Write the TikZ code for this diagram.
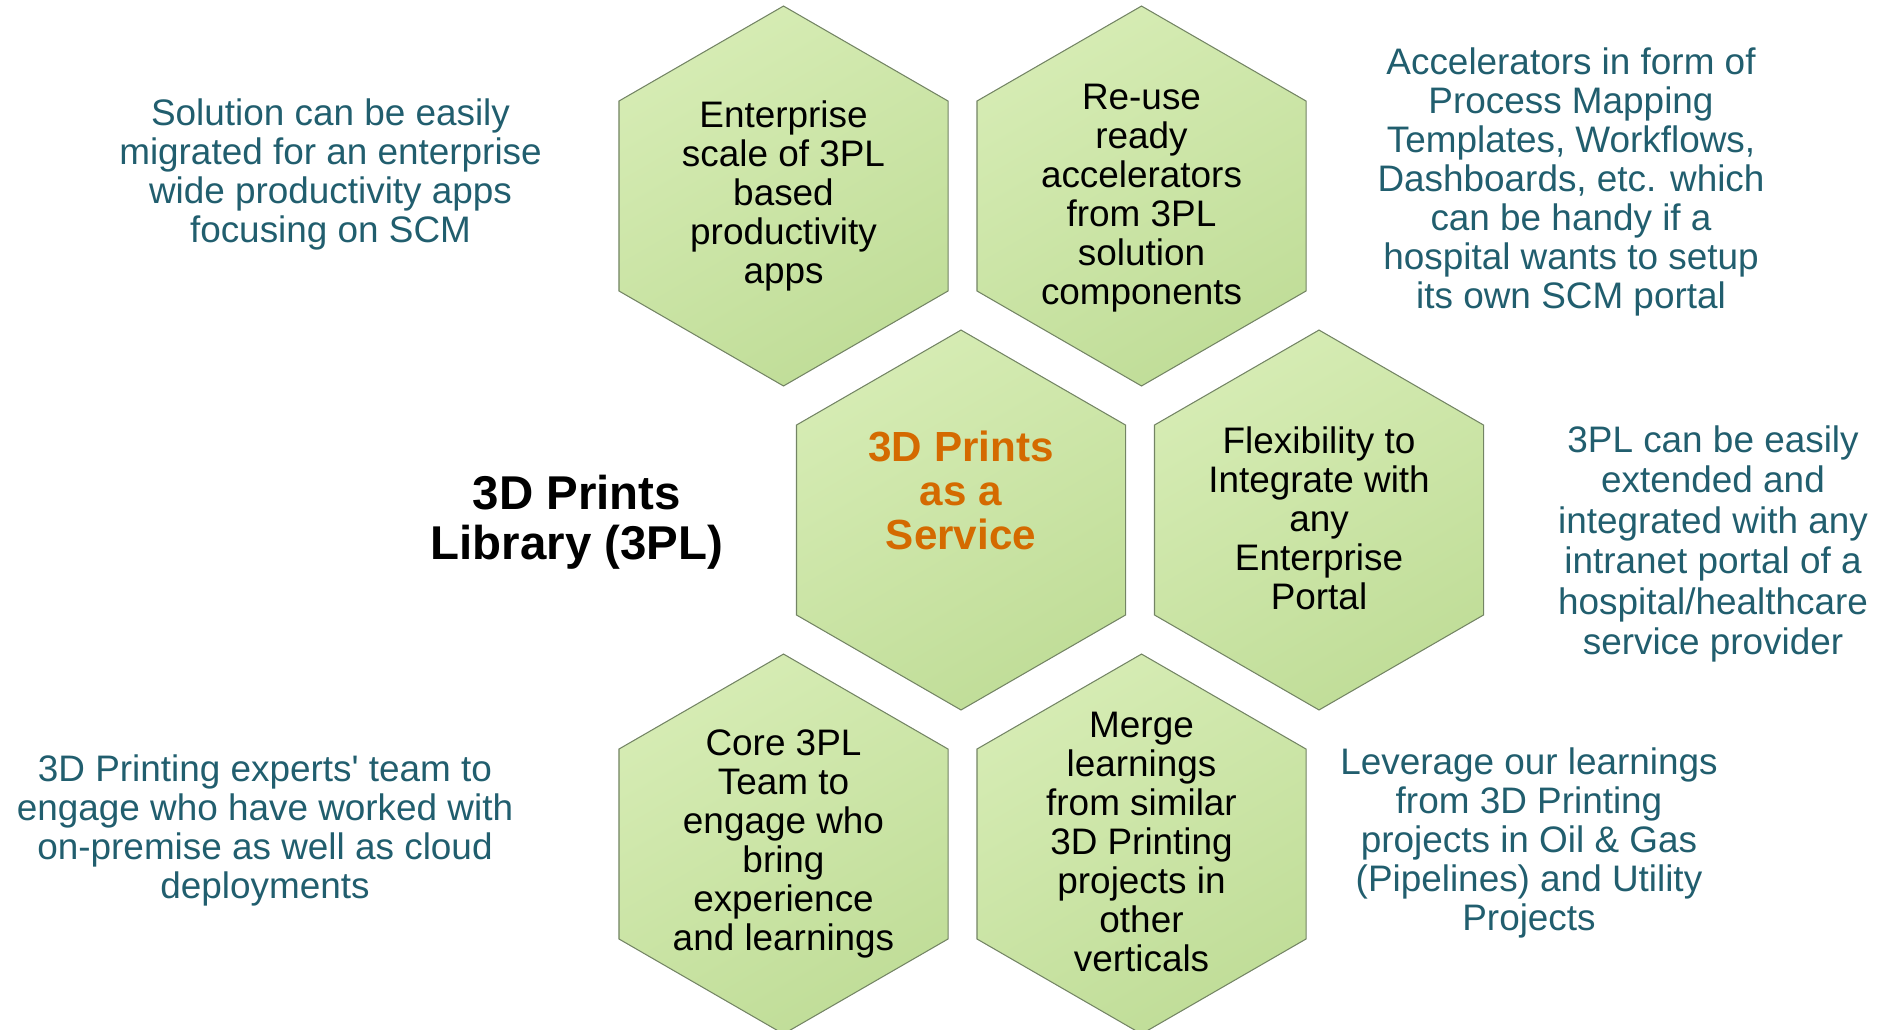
\documentclass[tikz,border=0pt]{standalone}
\usepackage{fontspec}
\setmainfont{Liberation Sans}[Ligatures=TeXOff]
\usetikzlibrary{shapes.geometric}
\definecolor{hexlight}{RGB}{214,236,180}
\definecolor{hexdark}{RGB}{192,221,152}
\definecolor{hexline}{RGB}{115,132,100}
\definecolor{noteteal}{RGB}{33,94,110}
\definecolor{svcorange}{RGB}{212,106,0}
\begin{document}
\begin{tikzpicture}[x=0.02cm, y=-0.02cm,
  hexcell/.style={regular polygon, regular polygon sides=6, shape border rotate=30,
    minimum size=7.6cm, inner sep=0pt, draw=hexline, line width=0.6pt,
    top color=hexlight, bottom color=hexdark, shading angle=30},
  celltext/.style={align=center, font=\fontsize{21}{22.2}\selectfont},
  note/.style={align=center, text=noteteal, font=\fontsize{21}{22.2}\selectfont}]
  \useasboundingbox (0,0) rectangle (1878,1029);
  \clip (0,0) rectangle (1878,1029);
  % honeycomb
  \node[hexcell] (scale)   at (783.5,196)  {};
  \node[hexcell] (reuse)   at (1141.5,196) {};
  \node[hexcell] (service) at (961,520)    {};
  \node[hexcell] (flex)    at (1319,520)   {};
  \node[hexcell] (core)    at (783.5,844)  {};
  \node[hexcell] (merge)   at (1141.5,844) {};
  % texts in the cells
  \node[celltext] (scaletxt) at (scale) {Enterprise\\scale of 3PL\\based\\productivity\\apps};
  \node[celltext] (reusetxt) at (1141.5,198) {Re-use\\ready\\accelerators\\from 3PL\\solution\\components};
  \node[align=center, text=svcorange, font=\fontsize{24}{25}\selectfont\bfseries]
    (servicetxt) at (961,490) {3D Prints\\as a\\Service};
  \node[celltext] (flextxt) at (1319,518) {Flexibility to\\Integrate with\\any\\Enterprise\\Portal};
  \node[celltext] (coretxt) at (core) {Core 3PL\\Team to\\engage who\\bring\\experience\\and learnings};
  \node[celltext] (mergetxt) at (1141.5,842) {Merge\\learnings\\from similar\\3D Printing\\projects in\\other\\verticals};
  % title
  \node[align=center, font=\fontsize{27}{28.5}\selectfont\bfseries] (title) at (577,522)
    {3D Prints\\Library (3PL)};
  % notes around
  \node[note] (scalenote) at (330.5,174.5)
    {Solution can be easily\\migrated for an enterprise\\wide productivity apps\\focusing on SCM};
  \node[note] (reusenote) at (1571,182)
    {Accelerators in form of\\Process Mapping\\Templates, Workflows,\\Dashboards, etc. which\\can be handy if a\\hospital wants to setup\\its own SCM portal};
  \node[note, font=\fontsize{21}{23}\selectfont] (flexnote) at (1713,544)
    {3PL can be easily\\extended and\\integrated with any\\intranet portal of a\\hospital/healthcare\\service provider};
  \node[note] (corenote) at (265,830)
    {3D Printing experts' team to\\engage who have worked with\\on-premise as well as cloud\\deployments};
  \node[note] (mergenote) at (1529,843)
    {Leverage our learnings\\from 3D Printing\\projects in Oil \& Gas\\(Pipelines) and Utility\\Projects};
\end{tikzpicture}
\end{document}
